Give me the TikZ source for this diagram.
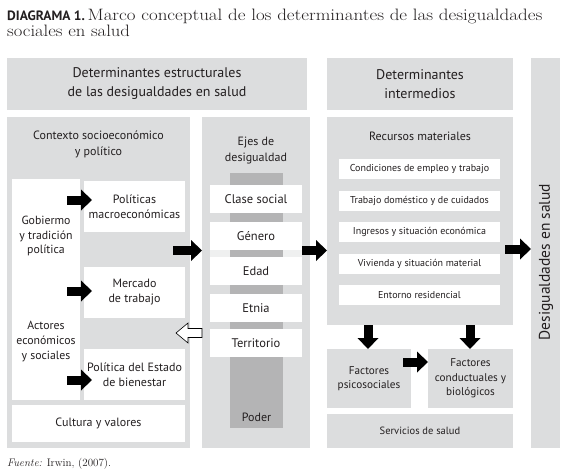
\documentclass[tikz,border=0pt]{standalone}
\usepackage{fontspec}
\setsansfont{PT Sans}
\usetikzlibrary{arrows.meta,calc}
\definecolor{bx}{HTML}{DCDDDE}
\definecolor{dk}{HTML}{B4B4B5}
\definecolor{tx}{HTML}{231F20}
\begin{document}
\begin{tikzpicture}[x=1pt,y=-1pt,
  sz/.style 2 args={minimum width=#1pt,minimum height=#2pt},
  gbox/.style={fill=bx,draw=none,inner sep=0pt,outer sep=0pt,anchor=north west,align=center,text=tx,font=\sffamily\fontsize{12}{15}\selectfont},
  wbox/.style={gbox,fill=white},
  ibox/.style={wbox,font=\sffamily\fontsize{10}{12}\selectfont},
  ebox/.style={wbox,font=\sffamily\fontsize{12.5}{15}\selectfont},
  hdr/.style={font=\sffamily\fontsize{14}{19}\selectfont},
  txt/.style={inner sep=0pt,align=center,text=tx,font=\sffamily\fontsize{12}{16}\selectfont},
  ttl/.style={anchor=base west,inner sep=0pt,text=tx,font=\fontsize{16.5}{18}\selectfont},
  barrow/.style={draw=black,line width=9pt,-{Triangle[length=11pt 0 0,width=21pt 0 0,line width=0pt]}}]
\useasboundingbox[fill=white] (0,0) rectangle (568,472);
% title
\node[ttl] (tit1) at (7,20.5)
  {{\sffamily\bfseries\fontsize{13.5}{16}\selectfont DIAGRAMA 1.}\,\scalebox{1.15}[1]{Marco conceptual de los determinantes de las desigualdades}};
\node[ttl] (tit2) at (7,36.5) {\scalebox{1.13}[1]{sociales en salud}};
% headers
\node[gbox,hdr,sz={300}{52}] (est) at (7,58) {Determinantes estructurales\\de las desigualdades en salud};
\node[gbox,hdr,sz={186}{52}] (int) at (327,58) {Determinantes\\intermedios};
\node[gbox,sz={29}{390}] (des) at (531,58) {};
\node[txt,rotate=90,font=\sffamily\fontsize{15.5}{18}\selectfont] (desT) at (546,262) {Desigualdades en salud};
% contexto
\node[gbox,sz={183}{331}] (ctx) at (7,117) {};
\node[txt] (ctxT) at (98.5,144.5) {Contexto socioeconómico\\y político};
\node[wbox,sz={68}{221}] (gob) at (12,179) {};
\node[txt,font=\sffamily\fontsize{11.8}{14.5}\selectfont] (gobT) at (46,236) {Gobiermo\\y tradición\\política};
\node[txt,font=\sffamily\fontsize{11.8}{15}\selectfont] (actT) at (46,342) {Actores\\económicos\\y sociales};
\node[wbox,sz={101}{51}] (pol) at (84,181) {Políticas\\macroeconómicas};
\node[wbox,sz={101}{51}] (mer) at (84,267) {Mercado\\de trabajo};
\node[wbox,sz={101}{51}] (bie) at (84,349) {Política del Estado\\de bienestar};
\node[wbox,sz={173}{37}] (cul) at (12,405) {Cultura y valores};
% ejes
\node[gbox,sz={108}{331}] (ejes) at (202,117) {};
\node[txt] (ejesT) at (256,150.5) {Ejes de\\desigualdad};
\node[fill=bx!45!white,inner sep=0pt,anchor=north west,sz={92}{7}] (strip) at (210,250) {};
\node[fill=dk,inner sep=0pt,anchor=north west,sz={53}{255}] (pod) at (230,173) {};
\node[txt] (podT) at (256.5,417) {Poder};
\node[ebox,sz={92}{28}] (e1) at (210,185) {Clase social};
\node[ebox,sz={92}{28}] (e2) at (210,222) {Género};
\node[ebox,sz={92}{28}] (e3) at (210,257) {Edad};
\node[ebox,sz={92}{28}] (e4) at (210,294) {Etnia};
\node[ebox,sz={92}{28}] (e5) at (210,329) {Territorio};
% recursos
\node[gbox,sz={186}{208}] (rec) at (327,117) {};
\node[txt] (recT) at (420,136) {Recursos materiales};
\node[ibox,sz={161}{20}] (r1) at (339,159) {Condiciones de empleo y trabajo};
\node[ibox,sz={161}{20}] (r2) at (339,190.5) {Trabajo doméstico y de cuidados};
\node[ibox,sz={161}{20}] (r3) at (339,222) {Ingresos y situación económica};
\node[ibox,sz={161}{20}] (r4) at (339,253.5) {Vivienda y situación material};
\node[ibox,sz={161}{20}] (r5) at (339,285) {Entorno residencial};
\node[gbox,sz={84}{59},font=\sffamily\fontsize{11.2}{14.5}\selectfont] (psi) at (327,349) {Factores\\psicosociales};
\node[gbox,sz={85}{59},font=\sffamily\fontsize{11.2}{14.5}\selectfont] (con) at (428,349) {Factores\\conductuales y\\biológicos};
\node[gbox,sz={186}{34},font=\sffamily\fontsize{10.5}{12}\selectfont] (ser) at (327,414) {Servicios de salud};
% arrows
\draw[barrow] ($(gob.east |- 0,200)+(-13,0)$) -- ($(pol.west |- 0,200)+(8,0)$);
\draw[barrow] ($(gob.east |- 0,291)+(-13,0)$) -- ($(mer.west |- 0,291)+(8,0)$);
\draw[barrow] ($(gob.east |- 0,380)+(-13,0)$) -- ($(bie.west |- 0,380)+(8,0)$);
\draw[barrow] ($(ctx.east |- 0,250.5)+(-17,0)$) -- (ejes.west |- 0,250.5);
\draw[barrow] ($(rec.west |- 0,250.5)+(-25,0)$) -- (rec.west |- 0,250.5);
\draw[barrow] ($(rec.east |- 0,249)+(-8,0)$) -- (des.west |- 0,249);
\draw[barrow] (rec.south -| 368,0) -- (psi.north -| 368,0);
\draw[barrow] (rec.south -| 470,0) -- (con.north -| 470,0);
\draw[barrow] ($(psi.east |- 0,362)+(-8,0)$) -- (con.west |- 0,362);
\coordinate (oat) at (ejes.west |- 0,333);
\draw[black,line width=0.6pt,fill=white,line join=miter] (oat) -- ++(0,-4.5) -- ++(-14,0) -- ++(0,-5.5) -- ++(-12,10) -- ++(12,10) -- ++(0,-5.5) -- ++(14,0) -- cycle;
% source
\node[anchor=base west,inner sep=0pt,text=tx,font=\fontsize{11}{13}\selectfont] (src) at (7,466) {\textit{Fuente:} Irwin, (2007).};
\end{tikzpicture}
\end{document}
